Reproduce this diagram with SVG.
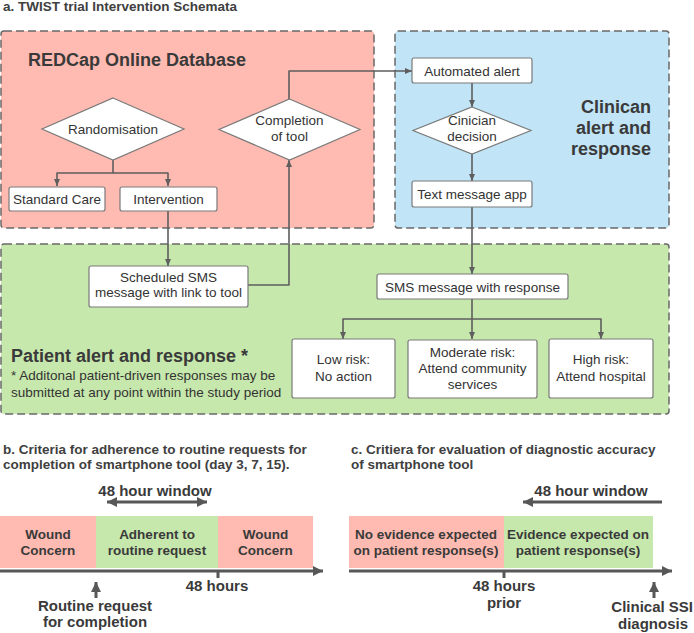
<svg xmlns="http://www.w3.org/2000/svg" width="694" height="633" viewBox="0 0 694 633">
<style>
  text { font-family: "Liberation Sans", Arial, sans-serif; fill: #333333; }
  .title { font-size: 13.5px; font-weight: bold; fill: #404040; }
  .head { font-size: 18px; font-weight: bold; fill: #3a3a3a; }
  .node { font-size: 13.5px; text-anchor: middle; }
  .note { font-size: 13.5px; }
  .bar { font-size: 13.5px; font-weight: bold; text-anchor: middle; fill: #3a3a3a; }
  .lbl { font-size: 15px; font-weight: bold; text-anchor: middle; fill: #3a3a3a; }
  .box { fill: #ffffff; stroke: #7a7a7a; stroke-width: 1.2; }
  .cont { stroke: #686868; stroke-width: 1.5; stroke-dasharray: 8 4; }
  .conn { fill: none; stroke: #5e5e5e; stroke-width: 1.6; stroke-linejoin: round; }
  .axis { fill: none; stroke: #575757; stroke-width: 3; }
</style>
<defs>
  <marker id="arr" markerUnits="userSpaceOnUse" markerWidth="8" markerHeight="8" refX="7" refY="4" orient="auto">
    <path d="M0,1 L7,4 L0,7 z" fill="#5e5e5e"/>
  </marker>
  <marker id="big" markerUnits="userSpaceOnUse" markerWidth="12" markerHeight="12" refX="10" refY="6" orient="auto">
    <path d="M0,1 L10,6 L0,11 z" fill="#575757"/>
  </marker>
  <marker id="bigs" markerUnits="userSpaceOnUse" markerWidth="12" markerHeight="12" refX="0" refY="6" orient="auto">
    <path d="M10,1 L0,6 L10,11 z" fill="#575757"/>
  </marker>
</defs>

<text class="title" x="3" y="11">a. TWIST trial Intervention Schemata</text>

<g id="containers">
  <rect id="redcap" class="cont" x="1" y="31" width="373" height="197" rx="3" fill="#ffbbb1"/>
  <rect id="clinician" class="cont" x="395" y="31" width="274" height="197" rx="3" fill="#c1e4f7"/>
  <rect id="patient" class="cont" x="1" y="244" width="668" height="170" rx="3" fill="#c7e8ac"/>
  <text class="head" x="28" y="66">REDCap Online Database</text>
  <text class="head" x="651" y="113" text-anchor="end">Clinican</text>
  <text class="head" x="651" y="134" text-anchor="end">alert and</text>
  <text class="head" x="651" y="155" text-anchor="end">response</text>
  <text class="head" x="11" y="362">Patient alert and response *</text>
  <text class="note" x="11" y="380">* Additonal patient-driven responses may be</text>
  <text class="note" x="11" y="397">submitted at any point within the study period</text>
</g>

<g id="connectors">
  <path class="conn" d="M113,160 V173 H57 V186" marker-end="url(#arr)"/>
  <path class="conn" d="M113,173 H168 V186" marker-end="url(#arr)"/>
  <path class="conn" d="M168,211 V266" marker-end="url(#arr)"/>
  <path class="conn" d="M248,285 H289 V160" marker-end="url(#arr)"/>
  <path class="conn" d="M289,99 V71 H412" marker-end="url(#arr)"/>
  <path class="conn" d="M472,83 V107" marker-end="url(#arr)"/>
  <path class="conn" d="M472,154 V181" marker-end="url(#arr)"/>
  <path class="conn" d="M472,207 V274" marker-end="url(#arr)"/>
  <path class="conn" d="M472,299 V339" marker-end="url(#arr)"/>
  <path class="conn" d="M472,319 H343 V339" marker-end="url(#arr)"/>
  <path class="conn" d="M472,319 H601 V339" marker-end="url(#arr)"/>
</g>

<g id="randomisation">
  <polygon class="box" points="113,98 184,129 113,160 42,129"/>
  <text class="node" x="113" y="134">Randomisation</text>
</g>
<g id="standard-care">
  <rect class="box" x="9" y="187" width="96" height="24" rx="2"/>
  <text class="node" x="57" y="204">Standard Care</text>
</g>
<g id="intervention">
  <rect class="box" x="120" y="187" width="97" height="24" rx="2"/>
  <text class="node" x="168.5" y="204">Intervention</text>
</g>
<g id="completion">
  <polygon class="box" points="289.5,99 360,129.5 289.5,160 219,129.5"/>
  <text class="node" x="289.5" y="124.5">Completion</text>
  <text class="node" x="289.5" y="140.5">of tool</text>
</g>
<g id="automated-alert">
  <rect class="box" x="412" y="58" width="120" height="25" rx="2"/>
  <text class="node" x="472" y="75.5">Automated alert</text>
</g>
<g id="clinician-decision">
  <polygon class="box" points="472,107 531,130.5 472,154 413,130.5"/>
  <text class="node" x="472" y="125">Cinician</text>
  <text class="node" x="472" y="141">decision</text>
</g>
<g id="text-message-app">
  <rect class="box" x="412" y="181" width="120" height="26" rx="2"/>
  <text class="node" x="472" y="199">Text message app</text>
</g>
<g id="scheduled-sms">
  <rect class="box" x="89" y="266" width="159" height="41" rx="2"/>
  <text class="node" x="168.5" y="282">Scheduled SMS</text>
  <text class="node" x="168.5" y="297">message with link to tool</text>
</g>
<g id="sms-response">
  <rect class="box" x="377" y="274" width="191" height="25" rx="2"/>
  <text class="node" x="472.5" y="291.5">SMS message with response</text>
</g>
<g id="low-risk">
  <rect class="box" x="292" y="339" width="103" height="59" rx="2"/>
  <text class="node" x="343.5" y="364">Low risk:</text>
  <text class="node" x="343.5" y="381">No action</text>
</g>
<g id="moderate-risk">
  <rect class="box" x="408" y="340" width="129" height="58" rx="2"/>
  <text class="node" x="472.5" y="357">Moderate risk:</text>
  <text class="node" x="472.5" y="373">Attend community</text>
  <text class="node" x="472.5" y="389">services</text>
</g>
<g id="high-risk">
  <rect class="box" x="549" y="339" width="104" height="59" rx="2"/>
  <text class="node" x="601" y="364">High risk:</text>
  <text class="node" x="601" y="381">Attend hospital</text>
</g>

<g id="panel-b">
  <text class="title" x="3" y="454">b. Criteria for adherence to routine requests for</text>
  <text class="title" x="3" y="469">completion of smartphone tool (day 3, 7, 15).</text>
  <text class="lbl" x="155" y="496">48 hour window</text>
  <path class="axis" d="M107,502 H207" marker-start="url(#bigs)" marker-end="url(#big)"/>
  <rect x="0" y="516" width="96" height="52" fill="#ffbbb1"/>
  <rect x="96" y="516" width="122" height="52" fill="#c7e8ac"/>
  <rect x="218" y="516" width="95" height="52" fill="#ffbbb1"/>
  <text class="bar" x="48" y="539">Wound</text>
  <text class="bar" x="48" y="555">Concern</text>
  <text class="bar" x="157" y="539">Adherent to</text>
  <text class="bar" x="157" y="555">routine request</text>
  <text class="bar" x="265.5" y="539">Wound</text>
  <text class="bar" x="265.5" y="555">Concern</text>
  <path class="axis" d="M0,571 H323" marker-end="url(#big)"/>
  <path class="axis" d="M218,571 V578" stroke-width="2"/>
  <path class="axis" d="M96,598 V582" marker-end="url(#big)"/>
  <text class="lbl" x="217" y="591">48 hours</text>
  <text class="lbl" x="95" y="611">Routine request</text>
  <text class="lbl" x="95" y="627">for completion</text>
</g>

<g id="panel-c">
  <text class="title" x="351" y="454">c. Critiera for evaluation of diagnostic accuracy</text>
  <text class="title" x="351" y="469">of smartphone tool</text>
  <text class="lbl" x="591" y="496">48 hour window</text>
  <path class="axis" d="M662,502 H523" marker-end="url(#big)"/>
  <rect x="349" y="516" width="155" height="52" fill="#ffbbb1"/>
  <rect x="504" y="516" width="149" height="52" fill="#c7e8ac"/>
  <text class="bar" x="426" y="539">No evidence expected</text>
  <text class="bar" x="426" y="555">on patient response(s)</text>
  <text class="bar" x="578" y="539">Evidence expected on</text>
  <text class="bar" x="578" y="555">patient response(s)</text>
  <path class="axis" d="M349,571 H672" marker-end="url(#big)"/>
  <path class="axis" d="M504,571 V578" stroke-width="2"/>
  <path class="axis" d="M654,598 V582" marker-end="url(#big)"/>
  <text class="lbl" x="504" y="591">48 hours</text>
  <text class="lbl" x="504" y="608">prior</text>
  <text class="lbl" x="693" y="612" style="text-anchor:end">Clinical SSI</text>
  <text class="lbl" x="653" y="629">diagnosis</text>
</g>
</svg>
